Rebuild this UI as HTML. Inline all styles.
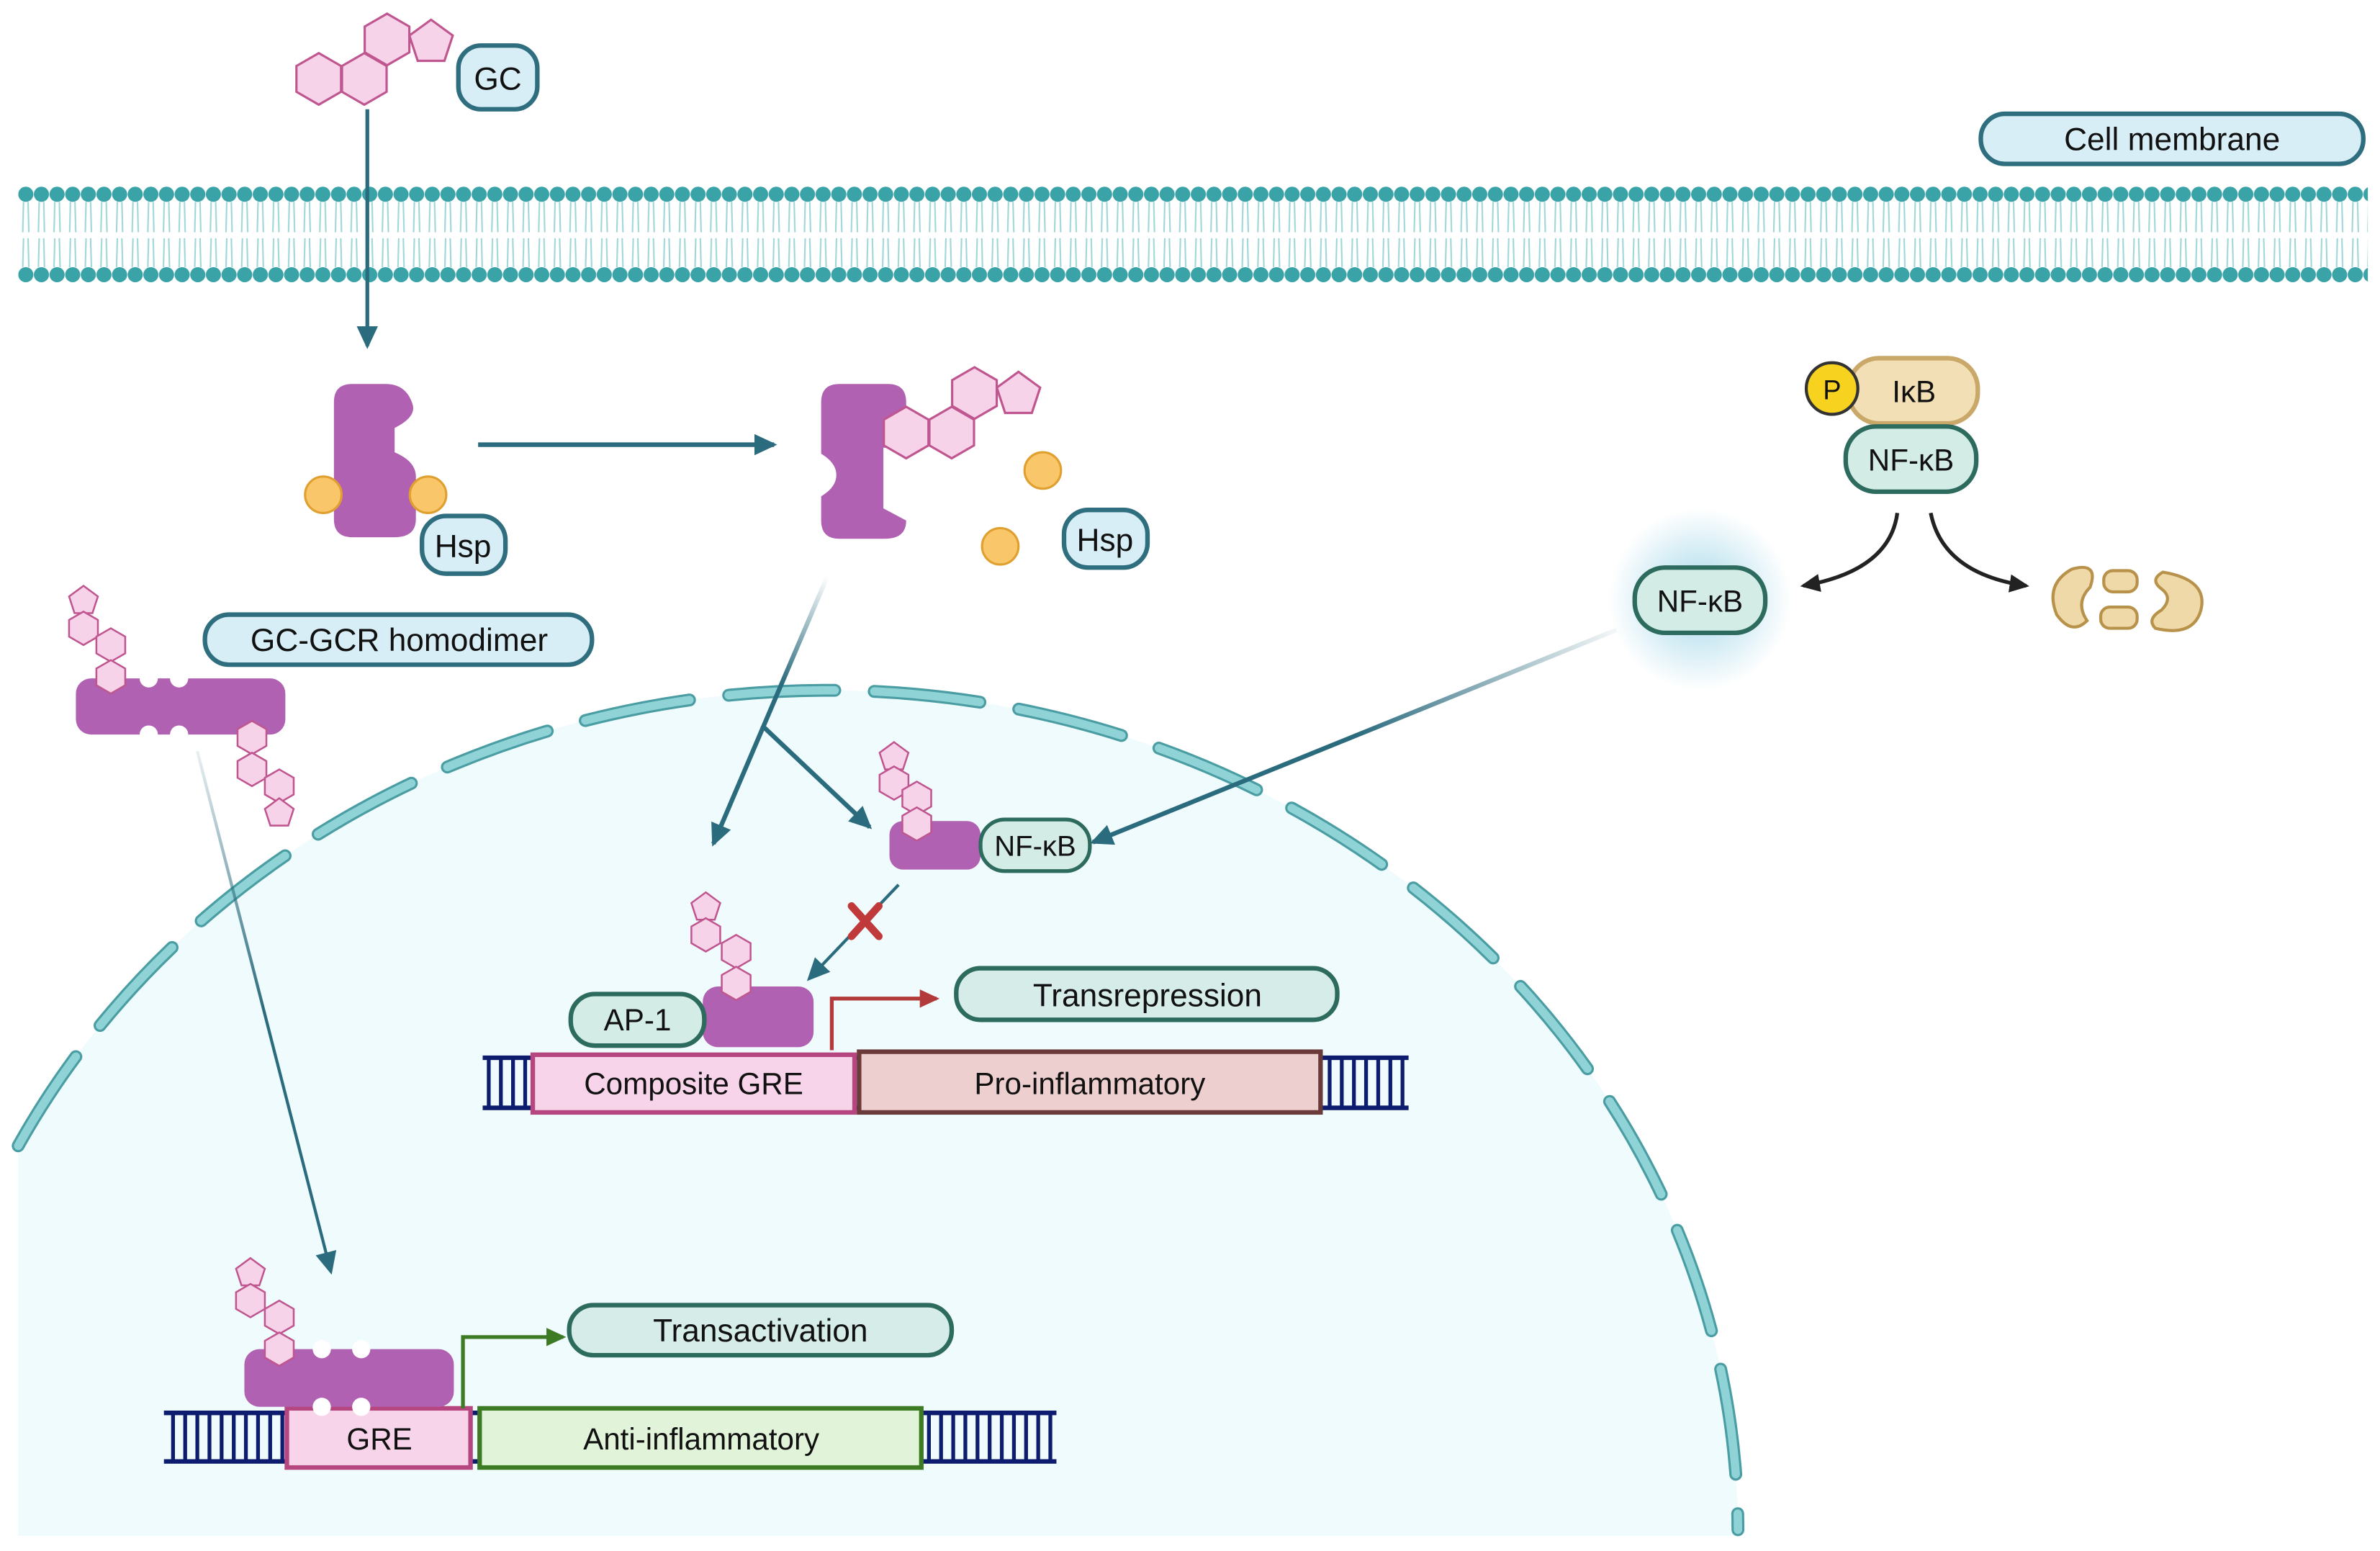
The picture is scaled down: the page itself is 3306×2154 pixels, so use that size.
<!DOCTYPE html>
<html><head><meta charset="utf-8"><style>
html,body{margin:0;padding:0;background:#fff;width:3306px;height:2154px;overflow:hidden}
svg{display:block}
text{font-family:"Liberation Sans",sans-serif;fill:#111}
</style></head><body>
<svg width="3306" height="2154" viewBox="0 0 1568 1022" preserveAspectRatio="none" xmlns="http://www.w3.org/2000/svg">
<defs>
<pattern id="mem" x="12" y="0" width="10.3" height="1022" patternUnits="userSpaceOnUse">
<circle cx="5" cy="128" r="5" fill="#3aa3a8"/>
<circle cx="5" cy="181" r="5" fill="#3aa3a8"/>
<path d="M3.5,133 L3,153 M6.5,133 L7,153 M3.5,157 L3,176 M6.5,157 L7,176" stroke="#9fd6d8" stroke-width="1" fill="none"/>
</pattern>
<polygon id="hx" points="0,-17 14.7,-8.5 14.7,8.5 0,17 -14.7,8.5 -14.7,-8.5" fill="#f7d3ea" stroke="#c0568f" stroke-width="1.5"/>
<polygon id="pt" points="0,-15 14.3,-4.6 8.8,12.1 -8.8,12.1 -14.3,-4.6" fill="#f7d3ea" stroke="#c0568f" stroke-width="1.5"/>
<polygon id="hs" points="0,-11 9.5,-5.5 9.5,5.5 0,11 -9.5,5.5 -9.5,-5.5" fill="#f7d3ea" stroke="#c0568f" stroke-width="1.2"/>
<polygon id="ps" points="0,-10 9.5,-3 5.9,8 -5.9,8 -9.5,-3" fill="#f7d3ea" stroke="#c0568f" stroke-width="1.2"/>
<marker id="at" markerWidth="16" markerHeight="14" refX="13" refY="7" orient="auto" markerUnits="userSpaceOnUse"><path d="M0,0 L15,7 L0,14 z" fill="#2b6b7e"/></marker>
<marker id="ab" markerWidth="14" markerHeight="12" refX="11" refY="6" orient="auto" markerUnits="userSpaceOnUse"><path d="M0,0 L13,6 L0,12 z" fill="#222"/></marker>
<marker id="ar" markerWidth="14" markerHeight="12" refX="11" refY="6" orient="auto" markerUnits="userSpaceOnUse"><path d="M0,0 L13,6 L0,12 z" fill="#b23a3a"/></marker>
<marker id="ag" markerWidth="14" markerHeight="12" refX="11" refY="6" orient="auto" markerUnits="userSpaceOnUse"><path d="M0,0 L13,6 L0,12 z" fill="#3d7a24"/></marker>
<linearGradient id="f1" x1="545" y1="380" x2="470" y2="555" gradientUnits="userSpaceOnUse"><stop offset="0" stop-color="#2b6b7e" stop-opacity="0"/><stop offset="0.4" stop-color="#2b6b7e"/></linearGradient>
<linearGradient id="f2" x1="130" y1="495" x2="218" y2="838" gradientUnits="userSpaceOnUse"><stop offset="0" stop-color="#2b6b7e" stop-opacity="0.1"/><stop offset="0.5" stop-color="#2b6b7e"/></linearGradient>
<linearGradient id="f3" x1="1065" y1="415" x2="720" y2="555" gradientUnits="userSpaceOnUse"><stop offset="0" stop-color="#2b6b7e" stop-opacity="0.05"/><stop offset="0.5" stop-color="#2b6b7e"/></linearGradient>
<radialGradient id="glow"><stop offset="0.3" stop-color="#bfe3f0"/><stop offset="1" stop-color="#bfe3f0" stop-opacity="0"/></radialGradient>
</defs>

<path d="M12,1012 L12,755 A600,555 0 0 1 1145,1010 L1145,1012 Z" fill="#f0fbfd"/>
<path d="M12,755 A600,555 0 0 1 1145,1008" fill="none" stroke="#4a9ea3" stroke-width="8.5" stroke-dasharray="70 26" stroke-linecap="round"/>
<path d="M12,755 A600,555 0 0 1 1145,1008" fill="none" stroke="#8fd3d6" stroke-width="5.5" stroke-dasharray="70 26" stroke-linecap="round"/>

<rect x="12" y="120" width="1548" height="68" fill="url(#mem)"/>

<use href="#hx" x="210" y="52"/><use href="#hx" x="240" y="52"/><use href="#hx" x="255" y="26"/><use href="#pt" x="284" y="28"/>

<g fill="#d8eef6" stroke="#2e6e7e" stroke-width="3">
<rect x="302" y="30" width="52" height="42" rx="15"/>
<rect x="1305" y="75" width="252" height="33" rx="16"/>
<rect x="278" y="340" width="55" height="38" rx="16"/>
<rect x="701" y="336" width="55" height="38" rx="16"/>
<rect x="135" y="405" width="255" height="33" rx="16"/>
</g>
<g font-size="21" text-anchor="middle">
<text x="328" y="59">GC</text>
<text x="1431" y="99">Cell membrane</text>
<text x="305" y="367">Hsp</text>
<text x="728" y="363">Hsp</text>
<text x="263" y="429">GC-GCR homodimer</text>
</g>

<line x1="242" y1="72" x2="242" y2="228" stroke="#2b6b7e" stroke-width="2.5" marker-end="url(#at)"/>
<line x1="315" y1="293" x2="510" y2="293" stroke="#2b6b7e" stroke-width="3" marker-end="url(#at)"/>
<line x1="545" y1="380" x2="470" y2="556" stroke="url(#f1)" stroke-width="3" marker-end="url(#at)"/>
<line x1="502" y1="478" x2="573" y2="545" stroke="#2b6b7e" stroke-width="3" marker-end="url(#at)"/>
<line x1="130" y1="495" x2="218" y2="838" stroke="url(#f2)" stroke-width="2" marker-end="url(#at)"/>
<line x1="1065" y1="415" x2="720" y2="555" stroke="url(#f3)" stroke-width="3" marker-end="url(#at)"/>

<path d="M232,253 h22 q14,0 18,14 q2,8 -12,15 v16 q14,6 14,16 v28 q0,12 -14,12 h-28 q-12,0 -12,-12 v-77 q0,-12 12,-12z" fill="#b161b1"/>
<circle cx="213" cy="326" r="12" fill="#f9c76a" stroke="#e0a030" stroke-width="1.5"/>
<circle cx="282" cy="326" r="12" fill="#f9c76a" stroke="#e0a030" stroke-width="1.5"/>

<path d="M553,253 h32 q12,0 12,12 v30 h-15 v40 q15,8 15,8 q0,12 -14,12 h-30 q-12,0 -12,-12 v-16 q10,-6 10,-14 q0,-8 -10,-14 v-34 q0,-12 12,-12z" fill="#b161b1"/>
<use href="#hx" x="597" y="285"/><use href="#hx" x="627" y="285"/><use href="#hx" x="642" y="259"/><use href="#pt" x="671" y="260"/>
<circle cx="687" cy="310" r="12" fill="#f9c76a" stroke="#e0a030" stroke-width="1.5"/>
<circle cx="659" cy="360" r="12" fill="#f9c76a" stroke="#e0a030" stroke-width="1.5"/>

<rect x="50" y="447" width="138" height="37" rx="10" fill="#b161b1"/>
<g fill="#fff"><circle cx="98" cy="447" r="6"/><circle cx="118" cy="447" r="6"/><circle cx="98" cy="484" r="6"/><circle cx="118" cy="484" r="6"/></g>
<use href="#ps" x="55" y="396"/><use href="#hs" x="55" y="414"/><use href="#hs" x="73" y="425"/><use href="#hs" x="73" y="446"/>
<use href="#hs" x="166" y="486"/><use href="#hs" x="166" y="507"/><use href="#hs" x="184" y="518"/><use href="#ps" x="184" y="536"/>

<rect x="1218" y="236" width="85" height="43" rx="20" fill="#f2dfb5" stroke="#c9a869" stroke-width="3"/>
<circle cx="1207" cy="256" r="17" fill="#f7d21e" stroke="#333" stroke-width="2"/>
<rect x="1216" y="281" width="86" height="43" rx="20" fill="#d4ece6" stroke="#2d6b5e" stroke-width="3"/>
<text x="1207" y="263" font-size="18" text-anchor="middle">P</text>
<text x="1261" y="265" font-size="20" text-anchor="middle">IκB</text>
<text x="1259" y="310" font-size="20" text-anchor="middle">NF-κB</text>
<path d="M1250,338 q-5,38 -62,48" fill="none" stroke="#222" stroke-width="2.5" marker-end="url(#ab)"/>
<path d="M1272,338 q8,40 63,48" fill="none" stroke="#222" stroke-width="2.5" marker-end="url(#ab)"/>
<g fill="#f0d9a8" stroke="#b8924a" stroke-width="2">
<path d="M1365,375 q18,-5 12,12 q-10,10 -2,22 q-10,10 -20,-4 q-8,-20 10,-30z"/>
<rect x="1386" y="376" width="22" height="14" rx="6"/>
<rect x="1384" y="400" width="24" height="14" rx="6"/>
<path d="M1425,377 q30,5 25,25 q-5,18 -30,12 q-6,-6 4,-12 q8,-8 0,-14 q-8,-6 1,-11z"/>
</g>
<circle cx="1120" cy="395" r="60" fill="url(#glow)"/>
<rect x="1077" y="374" width="86" height="43" rx="20" fill="#d4ece6" stroke="#2d6b5e" stroke-width="3"/>
<text x="1120" y="403" font-size="20" text-anchor="middle">NF-κB</text>

<rect x="586" y="541" width="60" height="32" rx="9" fill="#b161b1"/>
<use href="#ps" x="589" y="499"/><use href="#hs" x="589" y="516"/><use href="#hs" x="604" y="526"/><use href="#hs" x="604" y="543"/>
<rect x="646" y="540" width="72" height="34" rx="16" fill="#d4ece6" stroke="#2d6b5e" stroke-width="2.5"/>
<text x="682" y="564" font-size="19" text-anchor="middle">NF-κB</text>

<line x1="592" y1="583" x2="533" y2="645" stroke="#2b6b7e" stroke-width="2" marker-end="url(#at)"/>
<path d="M561,597 L579,617 M579,597 L561,617" stroke="#c0393b" stroke-width="5" stroke-linecap="round"/>

<g stroke="#0d1c6e">
<line x1="318" y1="697" x2="928" y2="697" stroke-width="3"/>
<line x1="318" y1="730" x2="928" y2="730" stroke-width="3"/>
<path d="M322,697v33M330,697v33M338,697v33M346,697v33M876,697v33M884,697v33M892,697v33M900,697v33M908,697v33M916,697v33M924,697v33" stroke-width="2.5"/>
</g>
<rect x="351" y="695" width="212" height="38" fill="#f8d4ea" stroke="#b5467f" stroke-width="3"/>
<rect x="566" y="693" width="304" height="40" fill="#edcfcf" stroke="#6b3a3a" stroke-width="3"/>
<text x="457" y="721" font-size="20" text-anchor="middle">Composite GRE</text>
<text x="718" y="721" font-size="20" text-anchor="middle">Pro-inflammatory</text>
<rect x="463" y="650" width="73" height="40" rx="10" fill="#b161b1"/>
<use href="#ps" x="465" y="598"/><use href="#hs" x="465" y="616"/><use href="#hs" x="485" y="627"/><use href="#hs" x="485" y="648"/>
<rect x="376" y="655" width="88" height="34" rx="16" fill="#d4ece6" stroke="#2d6b5e" stroke-width="3"/>
<text x="420" y="679" font-size="20" text-anchor="middle">AP-1</text>
<path d="M548,692 V658 H617" fill="none" stroke="#b23a3a" stroke-width="2.5" marker-end="url(#ar)"/>
<rect x="630" y="638" width="251" height="34" rx="16" fill="#d6ece8" stroke="#2d6b5e" stroke-width="3"/>
<text x="756" y="663" font-size="21" text-anchor="middle">Transrepression</text>

<g stroke="#0d1c6e">
<line x1="108" y1="931" x2="696" y2="931" stroke-width="3"/>
<line x1="108" y1="963" x2="696" y2="963" stroke-width="3"/>
<path d="M114,931v32M122,931v32M130,931v32M138,931v32M146,931v32M154,931v32M162,931v32M170,931v32M178,931v32M186,931v32M612,931v32M620,931v32M628,931v32M636,931v32M644,931v32M652,931v32M660,931v32M668,931v32M676,931v32M684,931v32M692,931v32" stroke-width="2.5"/>
</g>
<rect x="189" y="928" width="121" height="39" fill="#f8d4ea" stroke="#b5467f" stroke-width="3"/>
<rect x="316" y="928" width="291" height="39" fill="#e1f4d9" stroke="#3d7a24" stroke-width="3"/>
<text x="250" y="955" font-size="20" text-anchor="middle">GRE</text>
<text x="462" y="955" font-size="20" text-anchor="middle">Anti-inflammatory</text>
<rect x="161" y="889" width="138" height="38" rx="10" fill="#b161b1"/>
<g fill="#fff"><circle cx="212" cy="889" r="6"/><circle cx="238" cy="889" r="6"/><circle cx="212" cy="927" r="6"/><circle cx="238" cy="927" r="6"/></g>
<use href="#ps" x="165" y="839"/><use href="#hs" x="165" y="857"/><use href="#hs" x="184" y="868"/><use href="#hs" x="184" y="889"/>
<path d="M305,928 V881 H371" fill="none" stroke="#3d7a24" stroke-width="2.5" marker-end="url(#ag)"/>
<rect x="375" y="860" width="252" height="33" rx="16" fill="#d6ece8" stroke="#2d6b5e" stroke-width="3"/>
<text x="501" y="884" font-size="21" text-anchor="middle">Transactivation</text>
</svg>
</body></html>
